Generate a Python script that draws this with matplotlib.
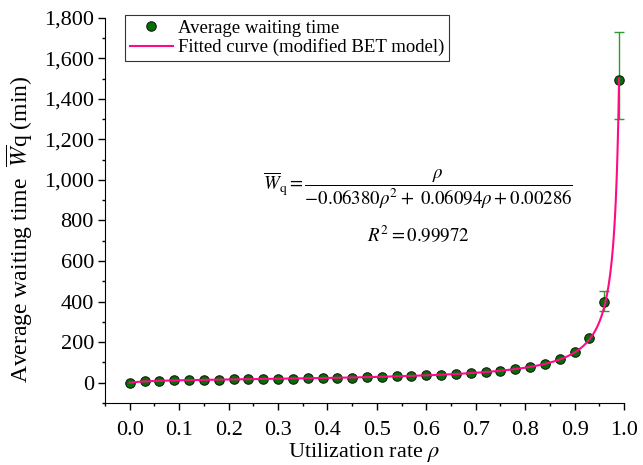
import numpy as np
import matplotlib.pyplot as plt
from matplotlib.ticker import MultipleLocator, FuncFormatter

plt.rcParams['font.family'] = ['Liberation Serif', 'DejaVu Serif']
plt.rcParams['mathtext.fontset'] = 'stix'

# measured points
rho = [0.00, 0.03, 0.06, 0.09, 0.12, 0.15, 0.18, 0.21, 0.24, 0.27, 0.30, 0.33,
       0.36, 0.39, 0.42, 0.45, 0.48, 0.51, 0.54, 0.57, 0.60, 0.63, 0.66, 0.69,
       0.72, 0.75, 0.78, 0.81, 0.84, 0.87, 0.90, 0.93, 0.96, 0.99]
wait = [0, 9, 11, 12, 13, 14, 15, 16, 17, 18, 19, 20,
        21, 22, 24, 25, 27, 29, 31, 33, 36, 40, 44, 48,
        53, 59, 66, 77, 93, 116, 154, 221, 396, 1493]
err_low = [0] * 32 + [44, 195]
err_high = [0] * 32 + [58, 238]

# fitted model coefficients (from the equation on the chart)
a, b, c = -0.06380, 0.06094, 0.00286

fig = plt.figure(figsize=(6.43, 4.65), dpi=100)
ax = fig.add_axes([0.1633, 0.1333, 0.8072, 0.8287])

x_fit = np.linspace(0, 0.99, 600)
y_fit = x_fit / (a * x_fit**2 + b * x_fit + c)

ax.errorbar(rho, wait, yerr=[err_low, err_high], fmt='none', ecolor='#2f9a2f',
            elinewidth=1.0, capsize=3.3, capthick=1.0, zorder=2)
ax.plot(rho, wait, 'o', color='#007000', mec='#1a1a1a', mew=0.8, ms=6.8,
        label='Average waiting time', zorder=3)
ax.plot(x_fit, y_fit, color='#ff0a84', lw=1.5,
        label='Fitted curve (modified BET model)', zorder=4)

ax.set_xlim(-0.05, 1.0)
ax.set_ylim(-100, 1800)
ax.xaxis.set_major_locator(MultipleLocator(0.1))
ax.xaxis.set_minor_locator(MultipleLocator(0.05))
ax.yaxis.set_major_locator(MultipleLocator(200))
ax.yaxis.set_minor_locator(MultipleLocator(100))
ax.xaxis.set_major_formatter(FuncFormatter(lambda v, p: f'{v:.1f}'))
ax.yaxis.set_major_formatter(FuncFormatter(lambda v, p: f'{v:,.0f}'))
ax.tick_params(which='major', length=5, width=1, labelsize=16, direction='out', pad=3)
ax.tick_params(which='minor', length=2.5, width=1, direction='out')
ax.tick_params(axis='x', which='major', pad=8)

ax.spines['top'].set_visible(False)
ax.spines['right'].set_visible(False)

ax.set_xlabel(r'Utilization rate $\rho$', fontsize=16, labelpad=1)
ax.set_ylabel(r'Average waiting time  $\overline{W}$q (min)', fontsize=17)
ax.yaxis.set_label_coords(-0.135, 0.45)

leg = ax.legend(loc='upper left', bbox_to_anchor=(0.0385, 1.007), fontsize=13.5,
                frameon=True, fancybox=False, edgecolor='black', handlelength=2.3,
                borderpad=0.25, labelspacing=0.08, handletextpad=0.3, borderaxespad=0)
leg.get_frame().set_linewidth(0.8)

ax.text(0.584, 952,
        r'$\overline{W}_{\mathrm{q}}=\dfrac{\rho}{-0.06380\rho^2+\ 0.06094\rho+0.00286}$',
        fontsize=13.6, ha='center', va='center')
ax.text(0.584, 725, r'$R^2=0.99972$', fontsize=13.6, ha='center', va='center')

fig.savefig('out.png', dpi=100)
